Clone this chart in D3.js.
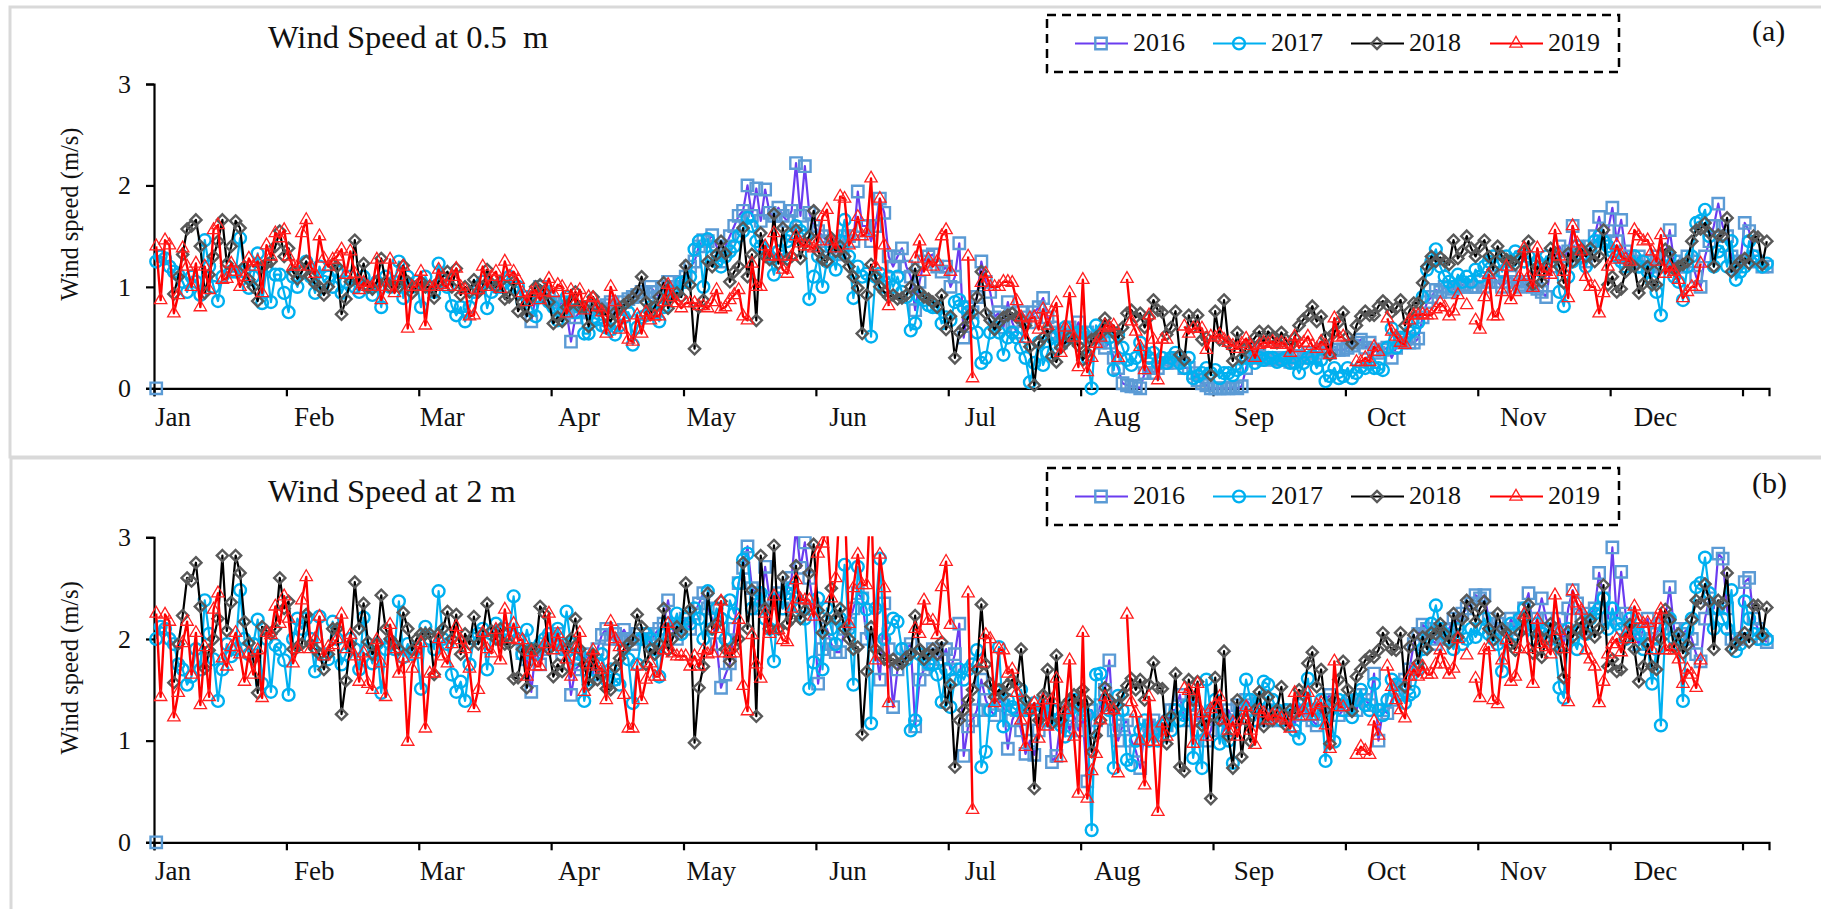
<!doctype html>
<html lang="en">
  <head>
    <meta charset="utf-8">
    <title>Wind Speed at 0.5 m and 2 m</title>
    <style>
      * { margin: 0; padding: 0; }
      body { background: #fff; overflow: hidden; }
      text { font-family: "Liberation Serif", "Times New Roman", serif; fill: #111; }
    </style>
    <script src="https://d3js.org/d3.v7.min.js"></script>
  </head>

  <body>
    <svg id="chart" width="1821" height="909"></svg>

    <script>
      const N = null; /* no reading that day */

      const months = ["Jan","Feb","Mar","Apr","May","Jun","Jul","Aug","Sep","Oct","Nov","Dec"];
      const monthStart = [0,31,60,91,121,152,182,213,244,274,305,335];
      const years = ["2016","2017","2018","2019"];
      const yTicks = [0,1,2,3];
      const dayTicks = [0,30,60,90,120,150,180,210,240,270,300,330,360];

      // Daily wind speed at 0.5 m (m/s)
      const speed05_2016 = [
        0,N,N,N,N,N,N,N,N,N,N,N,N,N,N,N,N,N,N,N,N,N,N,N,N,N,N,N,N,N,
        N,N,N,N,N,N,N,N,N,N,N,N,N,N,N,N,N,N,N,N,N,N,N,N,N,N,N,N,N,N,
        N,N,N,N,N,N,N,N,N,N,N,N,N,N,N,N,N,N,N,N,N,N,N,N,N,.66,.9,1.0,.95,.9,
        .85,.8,.85,.75,.46,.7,.75,.8,.75,.7,.8,.78,.82,.85,.8,.78,.85,.88,.9,.92,.95,.95,1.0,.95,.9,1.0,1.05,1.0,1.0,1.05,
        1.1,1.2,1.25,1.4,1.46,1.45,1.51,1.4,1.25,1.4,1.5,1.6,1.7,1.75,2.0,1.7,1.97,1.65,1.96,1.73,1.7,1.78,1.7,1.65,1.75,2.22,1.7,2.19,1.73,1.6,
        1.55,1.5,1.45,1.4,1.35,1.32,1.5,1.5,1.45,1.94,1.6,1.6,1.45,1.6,1.87,1.73,1.3,1.2,1.3,1.38,1.2,1.1,.77,1.05,1.25,1.3,1.32,1.2,1.15,1.2,
        1.0,1.1,1.43,.5,.8,.75,.9,1.25,1.05,.95,.7,.75,.6,.85,.65,.55,.75,.7,.65,.75,.8,.89,.7,.6,.55,.45,.5,.6,.55,.65,
        .5,.55,.5,.5,.45,.4,.45,.3,.2,.05,.03,.02,.02,0,.15,.2,.15,.2,.25,.25,.28,.25,.3,.2,.2,.15,.08,.05,.03,0,
        0,0,0,0,.01,0,.02,.2,.38,.3,.32,.28,.3,.3,.28,.3,.28,.26,.3,.32,.3,.35,.3,.35,.38,.4,.35,.38,.38,.38,
        .4,.42,.45,.48,.4,.45,.38,.35,.38,.4,.3,.4,.45,.48,.45,.45,.49,.7,.85,.9,.97,.95,1.0,.95,.98,1.0,1.02,1.0,1.0,1.0,
        1.05,1.0,1.05,1.1,1.05,1.0,1.05,1.1,1.05,1.0,1.02,1.05,1.0,.98,.95,.9,1.2,1.3,1.4,1.3,1.35,1.6,1.4,1.3,1.25,1.4,1.5,1.69,1.45,1.55,
        1.78,1.45,1.66,1.35,1.3,1.25,1.3,1.2,1.25,1.1,1.3,1.2,1.3,1.56,1.25,1.2,1.2,1.3,1.25,1.1,1.0,1.3,1.45,1.6,1.82,1.6,1.5,1.3,1.2,1.25,
        1.63,1.55,1.3,1.25,1.2,1.2
      ];
      const speed05_2017 = [
        1.25,1.3,1.28,1.2,1.15,1.12,1.05,.95,1.1,1.05,.92,1.46,1.2,1.0,.86,1.1,1.2,1.15,1.15,1.48,1.15,.99,1.1,1.33,.84,1.2,.85,1.12,1.12,.94,
        .75,1.1,1.0,1.15,1.25,1.1,.94,1.2,1.05,1.1,1.0,1.15,.94,1.05,1.1,1.0,.95,1.1,1.0,.92,1.05,.8,1.1,1.0,1.05,1.25,.89,1.1,1.0,1.05,
        .8,1.1,1.0,.95,1.23,1.05,1.0,.81,.72,.8,.66,.8,.95,1.0,1.05,.79,.95,1.0,1.0,1.05,1.1,1.0,1.0,.85,.9,.8,.71,.9,.95,.85,
        .8,.67,.75,.9,.85,.75,.8,.54,.54,.7,.68,.62,.6,.58,.53,.62,.7,.75,.43,.6,.7,.72,.8,.75,.66,.8,.9,.95,.95,1.04,
        1.05,1.1,1.37,1.45,1.0,1.47,1.3,1.25,1.2,1.3,1.35,1.4,1.5,1.55,1.68,1.6,1.45,1.4,1.35,1.3,1.12,1.35,1.3,1.45,1.5,1.6,1.55,1.5,.88,1.1,
        1.3,1.0,1.25,1.4,1.17,1.45,1.66,1.3,.89,1.2,1.1,1.13,.51,1.1,1.13,1.0,1.1,1.0,1.1,.95,.9,.57,.64,.9,.87,.82,.8,.8,.64,.7,
        .67,.85,.87,.8,.75,.65,.55,.25,.3,.55,.6,.55,.33,.5,.55,.5,.4,.3,.06,.25,.45,.23,.35,.5,.4,.55,.6,.5,.54,.55,
        .55,.3,0,.62,.55,.6,.5,.18,.53,.4,.28,.23,.3,.45,.35,.3,.35,.25,.3,.25,.3,.35,.25,.2,.3,.1,.12,.15,.2,.15,
        .18,.1,.15,.15,.13,.18,.21,.3,.3,.25,.3,.28,.3,.3,.26,.28,.3,.25,.25,.15,.25,.3,.32,.2,.28,.07,.12,.2,.1,.12,
        .2,.1,.15,.21,.2,.25,.2,.2,.18,.4,.59,.4,.5,.5,.55,.58,.65,.9,1.17,1.25,1.37,1.2,1.1,1.05,1.0,1.12,1.05,1.1,1.05,1.17,
        1.1,1.2,1.25,1.3,1.25,1.15,1.3,1.25,1.35,1.3,1.25,1.3,1.2,1.25,1.15,1.3,1.25,1.3,.95,.81,1.1,1.25,1.4,1.3,1.2,1.35,1.45,1.5,1.45,1.4,
        1.35,1.3,1.25,1.2,1.25,1.3,1.2,1.25,1.15,1.05,.95,.72,1.2,1.3,1.1,1.05,.87,1.2,1.3,1.63,1.65,1.76,1.5,1.2,1.35,1.4,1.2,1.45,1.07,1.15,
        1.2,1.45,1.3,1.25,1.2,1.23
      ];
      const speed05_2018 = [
        N,N,N,N,.93,1.1,1.32,1.57,1.6,1.66,1.4,.94,1.12,1.3,1.45,1.66,1.23,1.4,1.65,1.58,1.2,1.07,1.0,.86,1.2,1.23,1.25,1.4,1.55,1.3,
        1.38,1.15,1.08,1.15,1.25,1.1,1.03,1.0,.92,1.0,1.22,1.2,.73,.88,1.05,1.46,1.05,1.23,1.0,.98,1.05,1.28,1.05,1.0,1.0,1.0,1.21,1.05,.94,1.0,
        1.05,1.0,1.0,.89,1.05,1.1,1.15,1.0,1.18,.92,1.0,.95,1.07,.95,1.0,1.17,1.03,1.0,1.05,.88,.9,1.05,.76,.85,.71,.9,1.0,1.02,.95,.85,
        .64,.7,.66,.8,.85,.95,.8,.8,.61,.9,.8,.78,.72,.66,.75,.79,.82,.86,.89,.95,1.1,.85,.74,.8,.9,1.04,.79,.9,.94,.9,
        1.21,1.02,.39,.8,.87,1.25,1.2,1.32,1.45,1.33,1.05,1.15,1.2,1.58,1.1,1.32,.67,1.53,1.3,1.27,1.72,1.23,1.58,1.27,1.3,1.56,1.28,1.43,1.5,1.75,
        1.35,1.27,1.25,1.48,1.35,1.4,1.3,1.2,1.1,.99,.54,.92,1.22,1.1,1.0,.95,.9,.92,.88,.89,.92,1.0,1.18,.95,.9,.88,.85,.8,.92,.58,
        .71,.3,.55,.6,.7,.75,.9,1.15,.74,.67,.58,.65,.7,.72,.74,.7,.68,.62,.41,.03,.45,.5,.58,.31,.26,.4,.45,.5,.48,.42,
        .28,.35,.48,.5,.54,.69,.6,.55,.5,.6,.74,.77,.7,.74,.6,.7,.87,.77,.75,.53,.6,.76,.33,.28,.72,.6,.72,.48,.5,.13,
        .76,.48,.87,.44,.27,.55,.3,.4,.44,.5,.56,.45,.56,.5,.45,.55,.48,.42,.5,.62,.68,.72,.81,.66,.71,.5,.33,.55,.65,.75,
        .51,.44,.62,.71,.76,.72,.72,.81,.86,.82,.75,.79,.87,.62,.76,.84,.84,1.04,1.2,1.3,1.25,1.29,1.25,1.22,1.46,1.28,1.35,1.5,1.38,1.3,
        1.4,1.46,1.3,1.17,1.4,1.3,1.27,1.25,1.22,1.28,1.35,1.45,1.02,1.2,1.05,1.2,1.38,1.3,1.2,1.04,1.33,1.25,1.3,1.37,1.3,1.38,1.25,1.3,1.56,1.02,
        1.1,.95,.98,1.15,1.23,1.2,.94,1.03,1.2,1.02,1.02,1.2,1.37,1.34,1.17,1.2,1.22,1.25,1.45,1.56,1.57,1.63,1.53,1.2,1.51,1.5,1.68,1.15,1.2,1.25,
        1.28,1.23,1.5,1.49,1.22,1.45
      ];
      const speed05_2019 = [
        1.4,.87,1.46,1.41,.74,.92,1.38,1.2,1.0,1.23,.8,1.2,.97,1.56,1.61,1.07,1.08,1.23,1.15,1.0,1.1,1.28,1.2,1.25,.94,1.41,1.3,1.53,1.48,1.56,
        1.3,1.2,1.2,1.53,1.66,1.2,1.13,1.5,1.28,1.2,1.27,1.3,1.37,1.12,1.35,1.13,.97,1.04,1.0,1.0,1.27,.87,1.0,1.27,.94,1.1,1.2,.59,1.0,1.0,
        1.15,.62,1.0,1.0,1.17,1.02,1.0,1.1,1.18,1.0,.97,.71,.72,.97,1.2,1.0,1.1,1.15,.98,1.25,1.1,1.15,1.07,.94,.85,.94,.97,.87,.95,1.08,
        .94,1.02,1.0,.74,.97,.85,.97,.77,.9,.89,.8,.75,.54,1.0,.85,.58,.7,.48,.46,.72,.54,.75,.67,.71,.71,.85,1.02,.9,.84,.79,
        .84,.84,.84,.81,.81,.79,.85,.97,.78,.8,.87,.92,.97,.71,.67,1.23,1.0,1.0,1.4,1.3,1.53,1.3,1.17,1.13,1.3,1.5,1.43,1.4,1.4,1.38,
        1.45,1.69,1.76,1.45,1.38,1.89,1.87,1.41,1.5,1.69,1.5,1.53,2.07,1.2,1.87,1.41,.81,N,N,N,N,N,1.28,1.45,1.15,1.27,1.2,1.25,1.5,1.56,
        1.15,N,N,N,1.3,.1,N,1.04,1.13,1.0,1.0,1.0,1.05,1.05,1.04,.86,.7,.49,.69,.7,.58,.78,.62,.75,.84,.35,.6,.94,.5,.21,
        1.07,.16,.3,.44,.5,.62,.6,.62,.3,N,1.08,.66,.56,.41,.18,.72,.48,.08,.48,.48,N,N,N,.61,.54,.59,.59,.59,.38,.51,
        .5,.53,.48,.45,.42,.39,.44,.49,.42,.3,.43,.45,.44,.46,.43,.45,.43,.35,.51,.4,.45,.51,.42,.39,.46,.42,.33,.69,.5,.51,
        N,N,.26,.26,.3,.26,.41,.36,N,.69,.56,.51,.45,.43,.67,.72,.72,.73,.72,.72,.78,.84,.8,.71,.76,.92,N,.82,N,.67,
        .58,.9,1.12,.71,.71,.95,1.2,.87,.95,1.1,1.38,1.1,.99,1.38,1.15,1.15,1.12,1.56,1.3,1.15,.89,1.6,1.43,1.35,1.1,1.0,1.0,.74,.94,1.2,
        1.27,1.41,1.3,1.27,1.25,1.56,1.5,1.45,1.46,1.35,1.25,1.51,1.13,1.2,1.15,1.07,.89,.95,1.0,1.0,1.23,N,N,N,N,N,N,N,N,N,
        N,N,N,N,N,N
      ];

      // Daily wind speed at 2 m (m/s)
      const speed2_2016 = [
        0,N,N,N,N,N,N,N,N,N,N,N,N,N,N,N,N,N,N,N,N,N,N,N,N,N,N,N,N,N,
        N,N,N,N,N,N,N,N,N,N,N,N,N,N,N,N,N,N,N,N,N,N,N,N,N,N,N,N,N,N,
        N,N,N,N,N,N,N,N,N,N,N,N,N,N,N,N,N,N,N,N,N,N,N,1.86,1.8,1.48,1.9,1.75,1.9,1.95,
        2.0,2.05,1.85,1.9,1.45,1.7,1.75,1.85,1.8,1.65,1.9,2.04,2.1,2.0,2.05,2.0,2.09,2.0,1.95,2.05,2.0,2.05,1.95,2.05,2.1,2.15,2.38,2.1,2.0,2.15,
        2.2,2.1,2.25,2.35,2.45,2.3,2.2,1.95,1.52,1.65,1.76,2.1,2.55,2.7,2.91,2.5,2.45,2.3,2.71,2.4,2.35,2.45,2.3,2.5,2.6,3.1,2.7,2.95,2.6,2.3,
        1.56,1.9,2.1,1.95,1.87,1.87,2.1,2.15,2.3,2.45,2.4,2.0,2.1,1.95,1.6,2.35,1.9,1.33,1.7,1.8,1.9,1.95,1.14,1.6,1.7,1.75,1.9,1.85,1.8,1.9,
        1.7,1.85,2.15,.85,1.14,1.2,1.3,1.6,1.4,1.3,1.25,1.4,1.35,.92,1.2,1.3,1.1,.87,1.0,.86,1.1,1.2,1.4,.79,.85,1.2,1.3,1.1,1.25,1.1,
        1.2,.6,1.3,1.2,1.35,1.5,1.79,1.1,1.0,1.15,1.2,1.0,.9,.73,1.1,1.15,1.2,1.1,1.05,1.15,1.3,1.3,1.45,1.2,1.35,1.4,1.2,1.25,1.0,1.1,
        1.3,1.25,1.1,1.3,1.2,1.35,1.3,1.4,1.35,1.2,1.3,1.25,1.2,1.3,1.2,1.25,1.2,1.3,1.15,1.35,1.25,1.3,1.2,1.15,1.3,1.4,1.45,1.35,1.25,1.3,
        1.35,1.4,1.3,1.45,1.4,1.35,1.66,1.0,1.3,1.27,1.4,1.5,1.55,1.6,1.7,1.95,2.05,2.14,2.1,2.0,1.95,2.1,2.0,2.1,2.2,2.15,2.25,2.3,2.35,2.43,
        2.4,2.43,2.2,2.1,2.15,2.1,2.0,2.2,2.1,2.2,2.3,2.45,2.1,2.2,2.4,2.2,2.1,2.05,2.2,1.95,2.3,2.48,2.35,2.2,2.1,2.25,2.3,2.65,2.4,2.2,
        2.9,2.2,2.66,2.25,2.1,2.05,1.95,2.1,2.2,2.0,2.05,2.15,2.2,2.51,2.1,2.0,2.05,2.1,2.0,1.85,1.78,2.2,2.4,2.3,2.84,2.79,2.3,2.0,2.0,2.0,
        2.56,2.6,2.2,2.1,2.0,1.97
      ];
      const speed2_2017 = [
        2.0,2.12,2.1,2.0,1.95,1.75,1.7,1.55,1.63,1.9,1.7,2.38,2.05,1.8,1.39,1.7,1.95,1.83,1.9,2.48,2.0,1.85,1.95,2.19,1.56,2.0,1.48,1.94,1.9,1.79,
        1.45,2.0,2.2,2.1,2.2,2.0,1.68,2.22,1.85,1.8,2.17,2.0,1.75,1.85,2.0,1.9,1.7,2.21,1.9,1.76,1.95,1.47,1.9,1.95,1.9,2.37,1.82,1.95,1.85,1.9,
        1.51,2.12,2.0,1.9,2.47,2.0,1.95,1.65,1.48,1.58,1.39,1.75,2.0,2.05,2.1,1.7,2.05,2.15,2.0,2.1,2.05,2.42,2.0,1.85,2.09,1.9,1.85,1.95,2.0,2.05,
        1.95,2.1,1.9,2.27,1.95,1.8,1.85,1.39,1.6,1.7,1.75,1.85,1.6,1.7,1.6,1.55,1.9,1.8,1.37,1.75,2.0,2.05,2.0,1.9,1.63,2.05,2.15,2.1,2.25,2.05,
        2.2,2.15,2.3,2.2,2.0,2.47,2.1,2.3,2.2,2.0,2.38,2.25,2.55,2.78,2.84,2.3,2.4,2.45,2.2,2.1,1.78,2.4,2.3,2.45,2.5,2.4,2.3,2.2,1.51,1.77,
        2.4,1.7,2.3,2.1,1.95,2.2,2.73,2.1,1.55,2.71,2.4,2.29,1.17,2.3,2.79,2.0,2.1,2.2,2.17,1.9,1.8,1.1,1.2,1.85,1.8,1.76,1.75,1.65,1.38,1.7,
        1.33,1.6,1.7,1.6,1.7,1.75,1.89,.74,.89,1.3,1.5,1.92,1.14,1.4,1.33,1.3,1.5,1.3,1.3,1.37,1.3,1.33,1.2,1.3,1.2,1.15,1.04,1.3,1.4,1.35,
        1.3,1.25,.12,1.65,1.66,1.4,1.3,.73,1.44,1.3,.81,.76,1.0,1.1,1.2,1.0,1.1,1.0,1.15,1.2,1.1,1.3,1.2,1.25,1.35,.83,1.1,.73,1.6,1.3,
        1.4,.97,1.2,1.0,.78,1.2,1.3,1.6,1.4,1.2,1.4,1.58,1.55,1.4,1.3,1.2,1.3,1.25,1.1,1.02,1.4,1.61,1.3,1.2,1.4,.8,1.3,.99,1.4,1.3,
        1.4,1.23,1.4,1.5,1.35,1.3,1.56,1.3,1.25,1.4,1.6,1.55,1.45,1.37,1.45,1.48,1.7,1.9,2.0,2.15,2.33,2.1,2.05,2.0,1.9,2.1,1.95,2.0,2.1,2.02,
        2.1,2.2,2.05,2.0,1.95,1.68,2.0,2.15,2.05,2.2,2.3,2.1,2.0,2.15,2.05,2.1,2.0,1.95,1.52,1.42,2.1,2.0,1.9,2.1,2.05,2.2,2.25,2.3,2.4,2.1,
        2.3,2.15,2.1,2.0,2.2,2.1,2.05,1.9,1.95,1.56,1.9,1.15,2.1,2.2,2.0,1.95,1.39,2.1,2.2,2.51,2.55,2.8,2.45,2.1,2.3,2.2,2.1,2.48,1.88,1.95,
        2.37,2.2,2.05,2.0,2.05,2.0
      ];
      const speed2_2018 = [
        N,N,N,N,1.57,1.95,2.23,2.6,2.57,2.75,2.32,1.71,1.89,2.0,2.2,2.82,2.08,2.36,2.82,2.65,2.17,1.96,1.8,1.47,2.12,2.08,2.05,2.1,2.6,2.3,
        2.37,1.9,1.92,1.95,2.24,1.95,1.9,1.85,1.7,1.85,2.1,2.1,1.26,1.59,1.95,2.56,2.1,2.35,1.97,1.85,1.95,2.43,2.1,2.0,1.95,1.9,2.26,2.1,1.89,2.0,
        2.05,2.05,2.05,1.65,2.05,2.1,2.27,2.0,2.24,1.85,2.05,1.95,2.22,1.95,2.05,2.35,2.08,2.0,2.1,1.95,1.95,1.61,1.62,1.9,1.52,1.9,1.9,2.32,2.25,1.9,
        1.63,1.75,1.68,1.9,2.0,2.2,1.9,1.75,1.55,1.85,1.6,1.65,1.51,1.5,1.72,1.81,1.9,1.95,1.99,2.24,2.12,1.75,1.9,1.85,1.95,2.3,1.89,2.0,2.12,2.07,
        2.55,2.29,.98,1.52,1.73,2.45,2.1,2.15,2.37,1.9,1.78,1.92,2.0,2.75,2.1,2.48,1.24,2.82,2.3,2.1,2.92,2.1,2.61,2.15,2.2,2.72,2.2,2.28,2.65,2.93,
        2.28,2.06,2.2,2.5,2.2,2.3,2.1,2.0,1.9,1.92,1.06,1.68,2.12,1.9,1.85,1.8,1.78,1.8,1.75,1.76,1.82,1.85,2.23,1.9,1.8,1.85,1.9,1.85,1.97,1.35,
        1.55,.74,1.2,1.3,1.4,1.5,1.7,2.34,1.75,1.56,1.43,1.5,1.45,1.55,1.6,1.55,1.9,1.4,1.3,.53,1.2,1.45,1.7,1.17,1.84,1.2,1.35,1.4,1.45,1.35,
        1.5,1.38,.89,1.05,1.2,1.52,1.4,1.3,1.35,1.45,1.54,1.61,1.5,1.6,1.4,1.55,1.77,1.52,1.51,.97,1.24,1.66,.74,.7,1.6,1.4,1.58,1.15,1.2,.43,
        1.62,1.2,1.88,1.04,.73,1.4,.84,1.2,.99,1.3,1.48,1.14,1.43,1.2,1.3,1.53,1.15,1.3,1.27,1.5,1.45,1.76,1.87,1.53,1.7,1.3,.97,1.4,1.6,1.78,
        1.5,1.29,1.63,1.7,1.79,1.83,1.82,1.89,2.06,1.96,1.9,1.89,2.06,1.53,1.92,2.04,1.76,2.02,1.9,2.06,2.05,2.15,2.05,1.96,2.25,2.02,2.2,2.38,2.32,2.17,
        2.3,2.37,2.1,1.99,2.25,2.1,2.06,1.95,1.89,2.06,2.2,2.34,1.86,2.05,1.82,2.0,2.15,2.02,1.9,1.62,2.07,2.02,2.1,2.17,2.05,2.19,2.02,2.1,2.53,1.73,
        1.8,1.68,1.7,2.0,2.14,1.9,1.58,1.73,1.95,1.73,1.7,2.0,2.29,2.19,1.92,2.05,1.86,1.94,2.19,2.38,2.35,2.54,2.37,1.9,2.38,2.35,2.65,1.9,1.96,2.0,
        2.06,1.97,2.33,2.33,2.03,2.31
      ];
      const speed2_2019 = [
        2.25,1.43,2.24,2.17,1.23,1.47,1.96,2.17,1.65,2.06,1.35,1.92,1.43,2.29,2.45,1.81,1.73,1.92,2.06,1.85,1.58,1.86,1.65,1.89,1.42,2.06,2.04,2.32,2.15,2.42,
        2.2,1.76,1.9,2.38,2.61,1.9,2.0,2.22,1.83,1.92,1.94,2.0,2.24,1.9,2.04,1.83,1.58,1.86,1.56,1.5,1.99,1.76,1.43,2.14,1.9,1.66,1.81,.99,1.71,1.85,
        1.96,1.12,1.66,1.66,2.0,1.83,1.76,1.95,2.12,1.99,1.9,1.71,1.32,1.5,2.06,1.9,1.86,2.09,1.79,2.29,2.0,2.15,1.99,1.99,1.63,1.87,1.73,1.73,1.95,2.25,
        1.89,2.05,1.92,1.8,1.63,1.9,2.06,1.48,1.75,1.89,1.73,1.7,1.4,2.17,2.0,1.92,1.45,1.12,1.12,1.73,1.4,1.6,1.76,1.63,1.63,1.89,2.15,1.86,1.83,1.83,
        1.83,1.73,1.83,1.73,1.89,1.85,1.86,2.1,2.37,1.86,1.86,1.86,2.19,1.54,1.29,2.04,1.75,1.61,2.25,2.05,2.42,2.09,1.99,1.97,2.3,2.58,2.39,2.38,2.38,2.22,
        2.84,2.94,3.1,2.4,2.6,3.4,3.4,2.15,2.5,2.83,2.53,2.53,3.5,1.79,2.83,2.5,1.37,N,N,N,N,N,2.1,2.05,2.38,2.18,2.18,2.04,2.51,2.76,
        2.14,N,N,N,2.45,.32,N,1.76,2.04,2.0,1.37,1.9,1.89,1.66,1.7,1.47,1.2,.94,1.3,1.37,1.02,1.4,1.14,1.4,1.61,.83,1.3,1.79,1.04,.48,
        2.06,.43,.7,.87,1.2,1.43,1.3,1.3,.68,N,2.24,1.38,1.27,1.0,.56,1.43,.99,.3,1.17,1.04,N,N,N,1.51,1.49,.97,1.56,1.27,1.04,1.31,
        1.35,1.43,1.2,1.1,1.18,1.04,1.2,1.33,1.1,.96,1.3,1.27,1.2,1.25,1.24,1.22,1.2,1.12,1.47,1.24,1.3,1.47,1.24,1.35,1.37,1.15,.92,1.78,1.33,1.33,
        N,N,.86,.94,.9,.86,1.19,1.05,N,1.73,1.53,1.4,1.3,1.22,1.63,1.7,1.63,1.73,1.65,1.65,1.75,1.89,1.75,1.65,1.71,2.0,N,1.84,N,1.61,
        1.42,1.89,1.92,1.4,1.36,1.79,1.99,1.58,1.63,1.9,2.24,1.9,1.56,2.19,1.95,1.92,1.85,2.43,2.08,1.9,1.38,2.47,2.35,2.28,1.89,1.8,1.73,1.37,1.58,1.85,
        1.95,2.0,1.87,2.05,2.0,2.32,2.19,2.15,2.16,1.89,2.19,2.29,1.89,1.89,1.89,1.8,1.56,1.7,1.65,1.52,1.79,N,N,N,N,N,N,N,N,N,
        N,N,N,N,N,N
      ];

      const seriesA = [speed05_2016, speed05_2017, speed05_2018, speed05_2019];
      const seriesB = [speed2_2016, speed2_2017, speed2_2018, speed2_2019];

      /* One style per year: line colour, marker outline, d3 symbol */
      const styles = [
        { line: "#6a3cf0", stroke: "#5b9bd5", width: 2.4, lw: 2.2, type: d3.symbolSquare, size: 130 },
        { line: "#00b0f0", stroke: "#00b0f0", width: 2.4, lw: 2.2, type: d3.symbolCircle, size: 110 },
        { line: "#000000", stroke: "#595959", width: 2.4, lw: 2.2, type: d3.symbolDiamond2, size: 80 },
        { line: "#ff0000", stroke: "#ff2020", width: 1.3, lw: 2.4, type: d3.symbolTriangle2, size: 110 }
      ];

      const svg = d3.select("#chart");
      const x = d3.scaleLinear().domain([0, 366]).range([154, 1769]);

      function drawPanel(opt) {
        const y = d3.scaleLinear().domain([0, 3]).range([opt.y0, opt.y3]);
        const g = svg.append("g");

        // grey frame
        g.append("rect")
          .attr("x", opt.frame[0]).attr("y", opt.frame[1])
          .attr("width", 1900).attr("height", opt.frame[2])
          .attr("fill", "#fff").attr("stroke", "#d9d9d9").attr("stroke-width", 3);

        // axes
        const yAxis = d3.axisLeft(y).tickValues(yTicks).tickSize(8).tickPadding(15).tickFormat(d3.format("d"));
        const xAxis = d3.axisBottom(x).tickValues(dayTicks).tickSize(8).tickFormat("");
        g.append("g").attr("transform", "translate(154,0)").call(yAxis)
          .call(a => a.selectAll("text").attr("font-size", 26).attr("font-family", "Liberation Serif").attr("fill", "#111"))
          .call(a => a.selectAll("path,line").attr("stroke", "#000").attr("stroke-width", 2.2));
        g.append("g").attr("transform", `translate(0,${opt.y0})`).call(xAxis)
          .call(a => a.selectAll("path,line").attr("stroke", "#000").attr("stroke-width", 2.2));

        g.selectAll(".month").data(months).enter().append("text")
          .attr("class", "month")
          .attr("x", (d, i) => x(monthStart[i] + (i === 0 ? 4.3 : 5.3)))
          .attr("y", opt.y0 + 38)
          .attr("text-anchor", "middle")
          .attr("font-size", 27)
          .text(d => d);

        g.append("text")
          .attr("transform", `translate(78,${(opt.y0 + opt.y3) / 2 - 22}) rotate(-90)`)
          .attr("text-anchor", "middle")
          .attr("font-size", 24.5)
          .text("Wind speed (m/s)");

        g.append("text")
          .attr("x", 268).attr("y", opt.titleY)
          .attr("font-size", 32.5)
          .style("white-space", "pre")
          .text(opt.title);

        g.append("text")
          .attr("x", 1752).attr("y", opt.tagY)
          .attr("font-size", 30)
          .text(opt.tag);

        // only the top is clipped, values above 3 run off the plot
        const clipId = "clip" + opt.tag.charAt(1);
        svg.append("clipPath").attr("id", clipId).append("rect")
          .attr("x", 0).attr("y", opt.y3 - 1).attr("width", 1821).attr("height", 500);

        const plot = g.append("g").attr("clip-path", `url(#${clipId})`);

        opt.series.forEach((vals, k) => {
          const st = styles[k];
          const pts = vals.map((v, i) => ({ i, v }));
          const line = d3.line()
            .defined(d => d.v !== null)
            .x(d => x(d.i + 0.5))
            .y(d => y(d.v));
          plot.append("path")
            .attr("d", line(pts))
            .attr("fill", "none")
            .attr("stroke", st.line)
            .attr("stroke-width", st.lw)
            .attr("stroke-linejoin", "round");
          plot.append("g").selectAll("path")
            .data(pts.filter(d => d.v !== null))
            .enter().append("path")
            .attr("transform", d => `translate(${x(d.i + 0.5)},${y(d.v)})`)
            .attr("d", d3.symbol().type(st.type).size(st.size))
            .attr("fill", "none")
            .attr("stroke", st.stroke)
            .attr("stroke-width", st.width);
        });

        // legend
        const box = opt.legendY;
        g.append("rect")
          .attr("x", 1047).attr("y", box).attr("width", 572).attr("height", 57)
          .attr("fill", "none").attr("stroke", "#000").attr("stroke-width", 2.5)
          .attr("stroke-dasharray", "9,6");

        const lineStart = [1075, 1213, 1351, 1490];
        years.forEach((yr, k) => {
          const st = styles[k];
          const lx = lineStart[k];
          g.append("line")
            .attr("x1", lx).attr("x2", lx + 53)
            .attr("y1", box + 28.5).attr("y2", box + 28.5)
            .attr("stroke", st.line).attr("stroke-width", 2.2);
          g.append("path")
            .attr("transform", `translate(${lx + 26},${box + 28.5})`)
            .attr("d", d3.symbol().type(st.type).size(st.size))
            .attr("fill", "none")
            .attr("stroke", st.stroke)
            .attr("stroke-width", st.width);
          g.append("text")
            .attr("x", lx + 58).attr("y", box + 36)
            .attr("font-size", 26)
            .text(yr);
        });
      }

      drawPanel({
        title: "Wind Speed at 0.5  m", tag: "(a)", series: seriesA,
        y0: 388.3, y3: 84, titleY: 48, tagY: 41, legendY: 15, frame: [10, 7, 450]
      });
      drawPanel({
        title: "Wind Speed at 2 m", tag: "(b)", series: seriesB,
        y0: 842.3, y3: 537.3, titleY: 502, tagY: 493, legendY: 468, frame: [11, 458, 600]
      });
    </script>
  </body>
</html>
